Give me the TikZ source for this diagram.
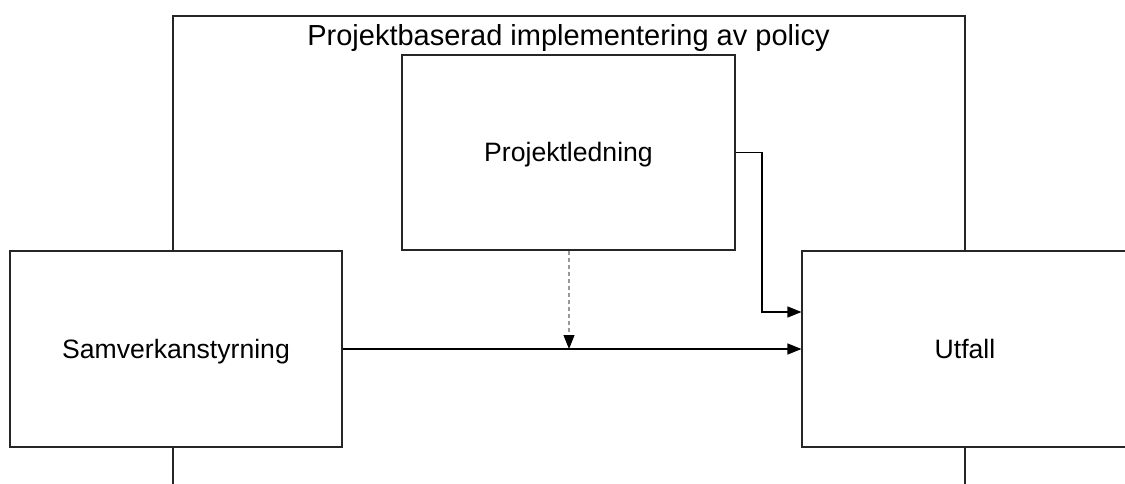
\documentclass[tikz,border=0pt]{standalone}
\usepackage{fontspec}
\setmainfont{Liberation Sans}
\usetikzlibrary{arrows.meta}
\begin{document}
\begin{tikzpicture}[x=1pt,y=-1pt,
  boxnode/.style={draw=black!85,line width=1.1pt,fill=white,inner sep=0pt,
    font=\fontsize{26.6}{30}\selectfont,text height=19pt,text depth=0pt},
  conn/.style={line width=1.1pt,-{Triangle[length=14pt,width=11pt]}},
  dashconn/.style={line width=1.1pt,draw=black!40,dash pattern=on 4pt off 3pt,
    -{Triangle[length=14pt,width=11pt,fill=black,color=black]}}]
\useasboundingbox (0,0) rectangle (1125,484);
\clip (0,0) rectangle (1125,484);
% outer frame
\coordinate (fbl) at (173,490);
\coordinate (ftl) at (173,16);
\coordinate (ftr) at (965,16);
\coordinate (fbr) at (965,490);
\draw[line width=1.1pt,black!85] (fbl) -- (ftl) -- (ftr) -- (fbr);
\node[font=\fontsize{29}{34}\selectfont,anchor=base] (title) at (568.5,46) {Projektbaserad implementering av policy};
% boxes
\node[boxnode,minimum width=333pt,minimum height=195pt] (pl) at (568.5,152.5) {Projektledning};
\node[boxnode,minimum width=332pt,minimum height=196pt] (sv) at (176,349) {Samverkanstyrning};
\node[boxnode,minimum width=326pt,minimum height=196pt] (ut) at (965,349) {Utfall};
% connectors
\draw[conn] (sv.east) -- (ut.west);
\coordinate (mid) at (569,349);
\draw[dashconn] (pl.south -| mid) -- (mid);
\coordinate (e2) at (762,312);
\draw[conn] (pl.east) -| (e2) -- (e2 -| ut.west);
\end{tikzpicture}
\end{document}
